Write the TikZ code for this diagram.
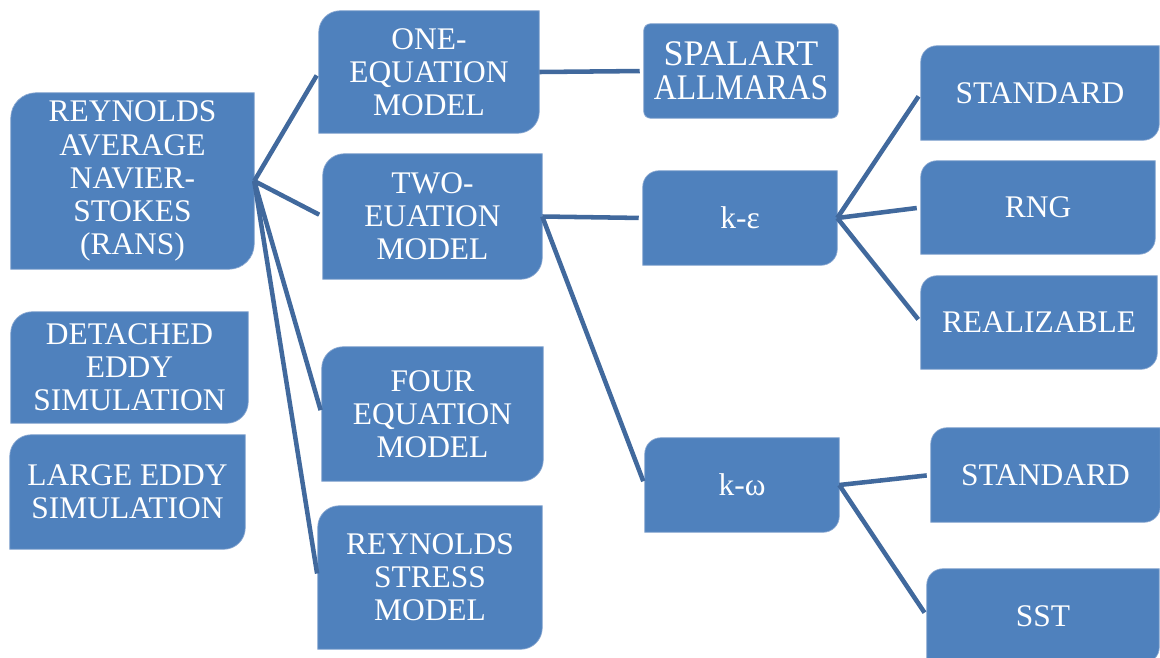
\documentclass[tikz,border=0pt]{standalone}
\usepackage{fontspec}
\usepackage{graphicx}
\setmainfont{Liberation Serif}
\usetikzlibrary{backgrounds}
\definecolor{boxfill}{HTML}{4F81BD}
\definecolor{boxedge}{HTML}{8EABD3}
\definecolor{connc}{HTML}{41699D}
\newcommand{\mkdiagshape}[2]{%
  \path[shapefill] ([yshift=-#2]#1.north west) arc[start angle=180,end angle=90,radius=#2]
    -- (#1.north east) -- ([yshift=#2]#1.south east) arc[start angle=0,end angle=-90,radius=#2]
    -- (#1.south west) -- cycle;}
\tikzset{
  shapefill/.style={fill=boxfill, draw=boxedge, line width=0.5pt},
  bx/.style={inner sep=0pt, align=center, text=white,
    font=\fontsize{23.6}{24.8}\selectfont},
  conn/.style={draw=connc, line width=3.4pt, shorten >=3pt}
}
\begin{document}
\begin{tikzpicture}[x=0.75pt,y=-0.75pt]
\useasboundingbox (0,0) rectangle (1160,657);
% nodes
\node[bx, minimum width=182.25pt, minimum height=132pt] (rans) at (132.5,181) {REYNOLDS\\AVERAGE\\NAVIER-\\STOKES\\(RANS)};
\node[bx, minimum width=177.75pt, minimum height=83.25pt] (des) at (129.5,367.5) {DETACHED\\EDDY\\SIMULATION};
\node[bx, minimum width=176.25pt, minimum height=85.5pt] (les) at (127.5,492) {LARGE EDDY\\SIMULATION};
\node[bx, minimum width=165pt, minimum height=91.5pt] (one) at (429,72) {ONE-\\EQUATION\\MODEL};
\node[bx, minimum width=164.25pt, minimum height=93.75pt] (two) at (432.5,216.5) {TWO-\\EUATION\\MODEL};
\node[bx, minimum width=165.75pt, minimum height=100.5pt] (four) at (432.5,414) {FOUR\\EQUATION\\MODEL};
\node[bx, minimum width=168pt, minimum height=107.25pt] (rsm) at (430,577.5) {REYNOLDS\\STRESS\\MODEL};
\node[bx, minimum width=145.5pt, minimum height=70.5pt, font=\fontsize{27}{25.5}\selectfont] (spa) at (741,71) {SPALART\\\scalebox{0.88}[1]{ALLMARAS}};
\node[bx, minimum width=145.5pt, minimum height=70.5pt] (ke) at (740,218) {k-ε};
\node[bx, minimum width=145.5pt, minimum height=70.5pt] (kw) at (742,485) {k-ω};
\node[bx, minimum width=178.5pt, minimum height=70.5pt] (std1) at (1040,93) {STANDARD};
\node[bx, minimum width=175.5pt, minimum height=69.75pt] (rng) at (1038,207.5) {RNG};
\node[bx, minimum width=177pt, minimum height=69.75pt] (real) at (1039,322.5) {REALIZABLE};
\node[bx, minimum width=171.75pt, minimum height=70.5pt] (std2) at (1045.5,475) {STANDARD};
\node[bx, minimum width=174pt, minimum height=70.5pt] (sst) at (1043,616) {SST};
% box shapes behind text
\begin{scope}[on background layer]
\mkdiagshape{rans}{19pt}
\mkdiagshape{des}{16pt}
\mkdiagshape{les}{16pt}
\mkdiagshape{one}{16pt}
\mkdiagshape{two}{16pt}
\mkdiagshape{four}{16pt}
\mkdiagshape{rsm}{16pt}
\path[shapefill, rounded corners=5pt] (spa.north west) rectangle (spa.south east);
\mkdiagshape{ke}{12pt}
\mkdiagshape{kw}{12pt}
\mkdiagshape{std1}{12pt}
\mkdiagshape{rng}{12pt}
\mkdiagshape{real}{12pt}
\mkdiagshape{std2}{12pt}
\mkdiagshape{sst}{12pt}
\end{scope}
% connectors
\draw[conn] (rans.east) -- (one.west);
\draw[conn] (rans.east) -- (two.west);
\draw[conn] (rans.east) -- (four.west);
\draw[conn] (rans.east) -- (rsm.west);
\draw[conn] (one.east) -- (spa.west);
\draw[conn] (two.east) -- (ke.west);
\draw[conn] (two.east) -- (kw.west);
\draw[conn] (ke.east) -- (std1.west);
\draw[conn] (ke.east) -- (rng.west);
\draw[conn] (ke.east) -- (real.west);
\draw[conn] (kw.east) -- (std2.west);
\draw[conn] (kw.east) -- (sst.west);
\end{tikzpicture}
\end{document}
